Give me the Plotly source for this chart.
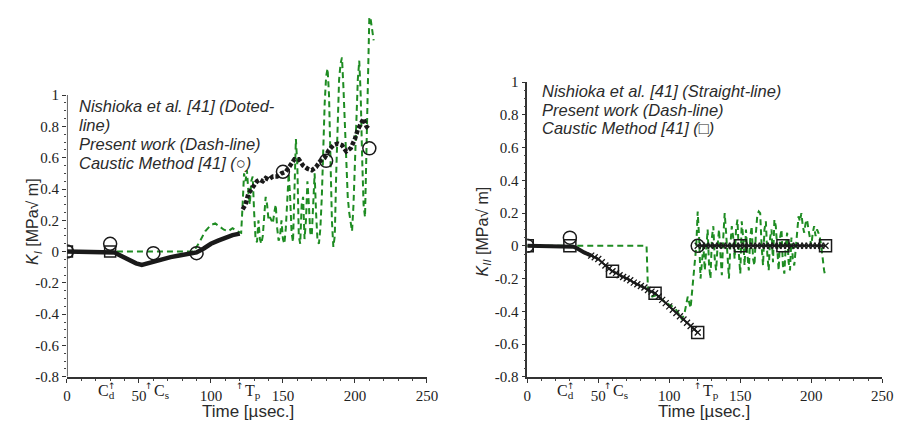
import numpy as np
import plotly.graph_objects as go

W, H = 913, 431

# ---------------- Mode I (left panel) ----------------
nish_I_t1 = [0, 5, 10, 15, 20, 25, 30, 33, 36, 40, 44, 48, 52, 56, 60, 66, 72, 78, 84, 90,
             95, 100, 105, 110, 115, 120]
nish_I_v1 = [0, 0, 0, 0, 0, 0, 0, -0.005, -0.02, -0.04, -0.06, -0.075, -0.085, -0.075, -0.06,
             -0.045, -0.035, -0.025, -0.015, -0.005, 0.02, 0.05, 0.07, 0.09, 0.105, 0.115]
nish_I_t2 = [122, 124, 126, 128, 130, 132, 134, 136, 138, 140, 143, 146, 149, 152, 155, 158,
             161, 164, 167, 170, 173, 176, 179, 182, 185, 188, 191, 194, 197, 200, 202, 204,
             206, 208, 210]
nish_I_v2 = [0.27, 0.30, 0.37, 0.40, 0.42, 0.45, 0.46, 0.45, 0.47, 0.46, 0.48, 0.48, 0.50,
             0.51, 0.55, 0.59, 0.59, 0.55, 0.53, 0.52, 0.54, 0.58, 0.60, 0.65, 0.68, 0.69,
             0.68, 0.64, 0.66, 0.72, 0.78, 0.82, 0.85, 0.80, 0.78]

present_I_t = [0, 88, 92, 96, 100, 103, 106, 109, 112, 115, 118, 121, 122, 123, 124, 125, 126,
               127, 128, 129, 130, 131, 132, 133, 134, 135, 136, 137, 138, 139, 140, 141, 142,
               143, 144, 145, 146, 147, 148, 149, 150, 151, 152, 153, 154, 155, 156, 157, 158,
               159, 160, 161, 162, 163, 164, 165, 166, 167, 168, 169, 170, 171, 172, 173, 174,
               175, 176, 177, 178, 179, 180, 181, 182, 183, 184, 185, 186, 187, 188, 189, 190,
               191, 192, 193, 194, 195, 196, 197, 198, 199, 200, 201, 202, 203, 204, 205, 206,
               207, 208, 209, 210, 211, 212, 213]
present_I_v = [0, 0, 0.06, 0.13, 0.17, 0.18, 0.16, 0.14, 0.13, 0.15, 0.13, 0.12, 0.30, 0.50,
               0.45, 0.52, 0.38, 0.30, 0.45, 0.48, 0.25, 0.08, 0.06, 0.20, 0.08, 0.05, 0.10,
               0.25, 0.35, 0.30, 0.20, 0.22, 0.20, 0.18, 0.25, 0.30, 0.15, 0.07, 0.10, 0.20,
               0.08, 0.05, 0.15, 0.30, 0.50, 0.35, 0.12, 0.06, 0.40, 0.72, 0.55, 0.10, 0.05,
               0.30, 0.35, 0.08, 0.20, 0.45, 0.30, 0.12, 0.10, 0.30, 0.50, 0.25, 0.07, 0.05,
               0.15, 0.35, 0.70, 0.95, 1.12, 1.17, 1.00, 0.60, 0.20, 0.03, 0.10, 0.50, 0.90,
               1.10, 1.20, 1.24, 1.05, 0.80, 0.55, 0.35, 0.25, 0.18, 0.13, 0.30, 0.60, 0.90,
               1.10, 1.22, 1.00, 0.60, 0.30, 0.22, 0.70, 1.20, 1.50, 1.48, 1.40, 1.35]

caustic_I_t = [0, 30, 60, 90, 150, 180, 210]
caustic_I_v = [0, 0.05, -0.01, -0.01, 0.51, 0.58, 0.66]
square_I_t = [0, 30]
square_I_v = [0, 0]

# ---------------- Mode II (right panel) ----------------
nish_II_t1 = [0, 5, 10, 15, 20, 25, 30, 32.5, 35, 37.5, 40, 42.5, 45, 47.5, 50, 52.5, 55, 57.5,
              60, 62.5, 65, 67.5, 70, 72.5, 75, 77.5, 80, 82.5, 85, 87.5, 90, 92.5, 95, 97.5,
              100, 102.5, 105, 107.5, 110, 112.5, 115, 117.5, 120]
nish_II_v1 = [0, 0, 0, 0, 0, 0, 0, -0.005, -0.015, -0.03, -0.04, -0.05, -0.06, -0.07, -0.08,
              -0.1, -0.12, -0.14, -0.155, -0.165, -0.18, -0.19, -0.2, -0.21, -0.225, -0.235,
              -0.245, -0.255, -0.27, -0.28, -0.29, -0.31, -0.33, -0.35, -0.37, -0.39, -0.41,
              -0.43, -0.45, -0.47, -0.49, -0.51, -0.53]
nish_II_t2 = [120, 123, 126, 129, 132, 135, 138, 141, 144, 147, 150, 153, 156, 159, 162, 165,
              168, 171, 174, 177, 180, 183, 186, 189, 192, 195, 198, 201, 204, 207, 210]
nish_II_v2 = [0, 0, 0, 0, 0, 0, 0, 0, 0, 0, 0, 0, 0, 0, 0, 0, 0, 0, 0, 0, 0, 0, 0, 0, 0, 0, 0,
              0, 0, 0, 0]
# the early part of the Mode II curve is drawn heavier
heavy_II_count = 13

present_II_t = [0, 40, 84, 85, 88, 91, 95, 100, 104, 107, 109, 111, 113, 115, 117, 119, 120,
                121, 122, 123, 124, 125, 126, 127, 128, 129, 130, 131, 132, 133, 134, 135, 136,
                137, 138, 139, 140, 141, 142, 143, 144, 145, 146, 147, 148, 149, 150, 151, 152,
                153, 154, 155, 156, 157, 158, 159, 160, 161, 162, 163, 164, 165, 166, 167, 168,
                169, 170, 171, 172, 173, 174, 175, 176, 177, 178, 179, 180, 181, 182, 183, 184,
                185, 186, 187, 188, 189, 190, 191, 192, 193, 194, 195, 196, 197, 198, 199, 200,
                201, 202, 203, 204, 205, 206, 207, 208, 209, 210]
present_II_v = [0, 0, 0, -0.27, -0.31, -0.30, -0.33, -0.36, -0.38, -0.42, -0.45, -0.40, -0.31,
                -0.38, -0.20, 0.00, 0.21, 0.05, -0.20, -0.10, 0.00, -0.15, -0.05, 0.10, -0.12,
                -0.20, 0.05, 0.12, -0.08, -0.15, 0.00, 0.10, -0.05, -0.18, 0.05, 0.20, 0.08,
                -0.10, -0.20, 0.00, 0.12, 0.05, -0.08, 0.10, 0.16, -0.05, -0.17, 0.15, 0.05,
                -0.12, 0.10, -0.05, -0.15, 0.05, 0.12, -0.08, -0.12, 0.08, 0.19, 0.21, 0.20,
                0.00, -0.12, 0.10, 0.15, -0.05, -0.15, 0.05, 0.10, -0.10, 0.16, 0.12, -0.05,
                -0.15, 0.05, 0.10, -0.12, -0.17, 0.00, 0.08, -0.10, -0.15, 0.05, -0.08, -0.12,
                0.00, 0.12, 0.18, 0.15, 0.20, 0.12, 0.08, 0.14, 0.16, 0.10, 0.05, 0.00, 0.08,
                0.12, 0.06, 0.10, 0.08, 0.05, 0.00, -0.10, -0.15, -0.19]

circle_II_t = [0, 30, 120]
circle_II_v = [0, 0.05, 0]
caustic_II_t = [0, 30, 60, 90, 120, 150, 180, 210]
caustic_II_v = [0, 0, -0.155, -0.29, -0.53, 0, 0, 0]

# ---------------- axis labels ----------------
x_ticks = [0, 50, 100, 150, 200, 250]
y_ticks = [-0.8, -0.6, -0.4, -0.2, 0, 0.2, 0.4, 0.6, 0.8, 1]
y_tick_text = ["-0.8", "-0.6", "-0.4", "-0.2", "0", "0.2", "0.4", "0.6", "0.8", "1"]
event_labels = [("C<sub>d</sub>", 31), ("C<sub>s</sub>", 57), ("T<sub>p</sub>", 120)]

GREEN = "#1e8c22"
INK = "#1a1a1a"
TEXT = "#2b2b2b"


def px(x):
    return x / W


def py(y):
    return 1 - y / H


fig = go.Figure()

# left panel traces
fig.add_trace(go.Scatter(x=present_I_t, y=present_I_v, mode="lines",
                         line=dict(color=GREEN, width=2, dash="6px,4px"),
                         xaxis="x", yaxis="y"))
fig.add_trace(go.Scatter(x=nish_I_t1, y=nish_I_v1, mode="lines",
                         line=dict(color=INK, width=4.5), xaxis="x", yaxis="y"))
fig.add_trace(go.Scatter(x=nish_I_t2, y=nish_I_v2, mode="lines",
                         line=dict(color=INK, width=4.5, dash="4px,2px"),
                         xaxis="x", yaxis="y"))
fig.add_trace(go.Scatter(x=square_I_t, y=square_I_v, mode="markers",
                         marker=dict(symbol="square-open", size=11,
                                     line=dict(color=INK, width=1.5), color=INK),
                         xaxis="x", yaxis="y"))
fig.add_trace(go.Scatter(x=caustic_I_t, y=caustic_I_v, mode="markers",
                         marker=dict(symbol="circle-open", size=13,
                                     line=dict(color=INK, width=1.5), color=INK),
                         xaxis="x", yaxis="y"))

# right panel traces
fig.add_trace(go.Scatter(x=present_II_t, y=present_II_v, mode="lines",
                         line=dict(color=GREEN, width=2, dash="6px,4px"),
                         xaxis="x2", yaxis="y2"))
fig.add_trace(go.Scatter(x=nish_II_t1[:heavy_II_count], y=nish_II_v1[:heavy_II_count],
                         mode="lines", line=dict(color=INK, width=4),
                         xaxis="x2", yaxis="y2"))
fig.add_trace(go.Scatter(x=nish_II_t1[heavy_II_count - 1:], y=nish_II_v1[heavy_II_count - 1:],
                         mode="lines+markers", line=dict(color=INK, width=2),
                         marker=dict(symbol="x-thin", size=6, line=dict(color=INK, width=1.3)),
                         xaxis="x2", yaxis="y2"))
fig.add_trace(go.Scatter(x=nish_II_t2, y=nish_II_v2, mode="lines+markers",
                         line=dict(color=INK, width=2),
                         marker=dict(symbol="x-thin", size=6, line=dict(color=INK, width=1.3)),
                         xaxis="x2", yaxis="y2"))
fig.add_trace(go.Scatter(x=circle_II_t, y=circle_II_v, mode="markers",
                         marker=dict(symbol="circle-open", size=13,
                                     line=dict(color=INK, width=1.5), color=INK),
                         xaxis="x2", yaxis="y2"))
fig.add_trace(go.Scatter(x=caustic_II_t, y=caustic_II_v, mode="markers",
                         marker=dict(symbol="square-open", size=12,
                                     line=dict(color=INK, width=1.5), color=INK),
                         xaxis="x2", yaxis="y2"))

tick_font = dict(family="Liberation Serif", size=15, color="#222222")
minor_x = dict(ticklen=2, tickcolor="#444444", dtick=10, ticks="outside")


def xaxis(domain):
    return dict(domain=domain, range=[0, 250], tickvals=x_ticks, showgrid=False,
                zeroline=False, showline=True, linecolor="#333333", linewidth=1.5,
                ticks="outside", ticklen=4, tickcolor="#333333", tickfont=tick_font,
                minor=minor_x)


def yaxis(domain, anchor, rng, show_line):
    return dict(domain=domain, range=rng, tickvals=y_ticks, ticktext=y_tick_text,
                showgrid=False, zeroline=False, showline=show_line, linecolor="#333333",
                linewidth=1.5, ticks="outside", ticklen=4, tickcolor="#333333",
                tickfont=tick_font, anchor=anchor,
                minor=dict(ticklen=2, tickcolor="#444444", ticks="outside",
                           tickvals=[v for v in np.arange(-0.8, 1.001, 0.05).round(2)]))


fig.update_layout(
    width=W, height=H, margin=dict(l=0, r=0, t=0, b=0),
    paper_bgcolor="white", plot_bgcolor="white", showlegend=False,
    xaxis=xaxis([px(64), px(430)]) | dict(anchor="y"),
    yaxis=yaxis([py(383), py(1.1)], "x", [-0.8, 1.55], False),
    xaxis2=xaxis([px(532), px(893)]) | dict(anchor="y2"),
    yaxis2=yaxis([py(383), py(77)], "x2", [-0.8, 1.0], True),
)

# left y axis line stops at 1
fig.add_shape(type="line", xref="x", yref="y", x0=0, x1=0, y0=-0.8, y1=1,
              line=dict(color="#333333", width=1.5))

ann = []
legend_font = dict(family="Liberation Sans", size=16.5, color=TEXT)
left_lines = ["<i>Nishioka et al. [41] (Doted-</i>", "<i>line)</i>",
              "<i>Present work (Dash-line)</i>", "<i>Caustic Method [41] (○)</i>"]
for i, s in enumerate(left_lines):
    ann.append(dict(x=px(74), y=py(102 + 19.5 * i), xref="paper", yref="paper", text=s,
                    showarrow=False, xanchor="left", yanchor="middle", font=legend_font))
right_lines = ["<i>Nishioka et al. [41] (Straight-line)</i>",
               "<i>Present work (Dash-line)</i>", "<i>Caustic Method [41] (□)</i>"]
for i, s in enumerate(right_lines):
    ann.append(dict(x=px(545), y=py(86 + 19.5 * i), xref="paper", yref="paper", text=s,
                    showarrow=False, xanchor="left", yanchor="middle", font=legend_font))

title_font = dict(family="Liberation Sans", size=17, color=TEXT)
for xc in (px(248), px(712)):
    ann.append(dict(x=xc, y=py(419), xref="paper", yref="paper", text="Time [µsec.]",
                    showarrow=False, xanchor="center", yanchor="middle", font=title_font))
ann.append(dict(x=px(19), y=py(222), xref="paper", yref="paper",
                text="<i>K<sub>I</sub></i> [MPa√ m]", textangle=-90, showarrow=False,
                font=dict(family="Liberation Sans", size=16, color=TEXT)))
ann.append(dict(x=px(487), y=py(232), xref="paper", yref="paper",
                text="<i>K<sub>II</sub></i> [MPa√ m]", textangle=-90, showarrow=False,
                font=dict(family="Liberation Sans", size=16, color=TEXT)))

# event markers below the time axis
ev_font = dict(family="Liberation Serif", size=16, color="#222222")
for xa, ya in (("x", "y"), ("x2", "y2")):
    for label, t in event_labels:
        ann.append(dict(x=t, y=-0.8, xref=xa, yref=ya, text="↑", showarrow=False,
                        yshift=-9, font=dict(family="DejaVu Sans", size=9, color="#222222")))
        if label.startswith("C<sub>d"):
            ann.append(dict(x=t, y=-0.8, xref=xa, yref=ya, text=label, showarrow=False,
                            xanchor="right", xshift=5, yanchor="top", yshift=-3,
                            font=ev_font))
        else:
            ann.append(dict(x=t, y=-0.8, xref=xa, yref=ya, text=label, showarrow=False,
                            xanchor="left", xshift=3, yanchor="top", yshift=-3,
                            font=ev_font))

fig.update_layout(annotations=ann)
fig.write_html("out.html")
